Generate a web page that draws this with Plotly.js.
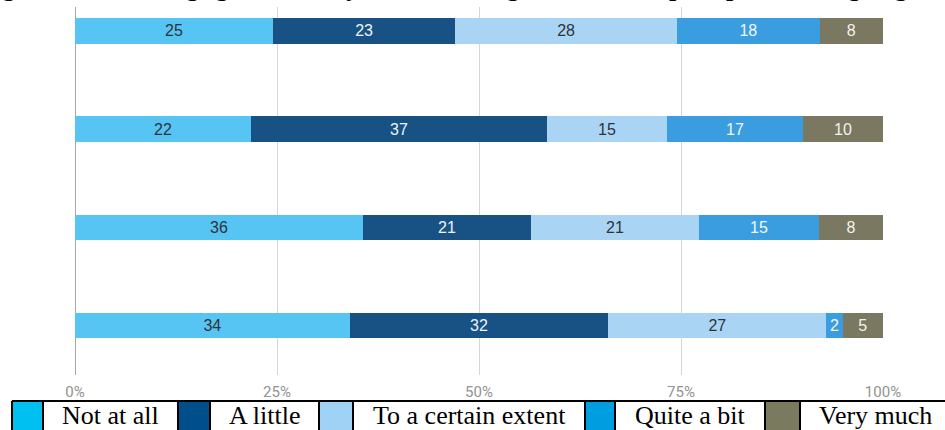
<!DOCTYPE html>
<html>
<head>
<meta charset="utf-8">
<script src="https://cdn.plot.ly/plotly-3.0.1.min.js"></script>
<style>
  html, body { margin: 0; padding: 0; background: #ffffff; }
  #chart { width: 945px; height: 430px; }
</style>
</head>
<body>
<div id="chart"></div>
<script>
// Rows of the stacked bar, top to bottom
const concepts = ["Hope", "Fear", "Anger", "Guilt"];

// Answer scale (stack order, left to right)
const levels = ["Not at all", "A little", "To a certain extent", "Quite a bit", "Very much"];

// Shares per answer, one value per concept row
const notAtAll   = [25, 22, 36, 34];
const aLittle    = [23, 37, 21, 32];
const certain    = [28, 15, 21, 27];
const quiteABit  = [18, 17, 15, 2];
const veryMuch   = [8, 10, 8, 5];

const tickVals   = [0, 25, 50, 75, 100];
const tickLabels = ["0%", "25%", "50%", "75%", "100%"];

const chartTitle = "Degree of the feelings generated by climate change in the concept hope, fear, anger, guilt";

// Styling
const barColors    = ["#56c5f3", "#185285", "#a9d4f4", "#3a9de0", "#7b7862"];
const swatchColors = ["#00c0f2", "#004f8a", "#a0d2f6", "#009de0", "#797a5e"];
const labelColors  = ["#2e3338", "#eef2f7", "#2e3338", "#f4f7fb", "#f2f2ee"];

const series = [notAtAll, aLittle, certain, quiteABit, veryMuch];

const traces = series.map((vals, i) => ({
  type: "bar",
  orientation: "h",
  name: levels[i],
  y: concepts,
  x: vals,
  text: vals.map(String),
  texttemplate: "%{text}",
  textposition: "inside",
  insidetextanchor: "middle",
  textangle: 0,
  constraintext: "none",
  textfont: { family: "Liberation Sans, Arial, sans-serif", size: 16, color: labelColors[i] },
  marker: { color: barColors[i], line: { width: 0 } },
  width: 0.26,
  hoverinfo: "skip"
}));

// Plot frame in pixels
const W = 945, H = 430;
const M = { l: 75, r: 62, t: 7, b: 55 };
const pw = W - M.l - M.r, ph = H - M.t - M.b;
const px = v => (v - M.l) / pw;          // page x -> paper x
const py = v => (H - M.b - v) / ph;      // page y -> paper y

// Boxed legend strip under the axis
const cellEdges = [12, 43, 178, 210, 319, 353, 585, 615, 765, 800, 950];
const legTop = 401, legBottom = 434;

const shapes = [];
const annotations = [];

levels.forEach((lab, i) => {
  const s0 = cellEdges[2 * i], s1 = cellEdges[2 * i + 1], t1 = cellEdges[2 * i + 2];
  shapes.push({
    type: "rect", xref: "paper", yref: "paper",
    x0: px(s0), x1: px(s1), y0: py(legBottom), y1: py(legTop),
    fillcolor: swatchColors[i], line: { width: 0 }, layer: "above"
  });
  annotations.push({
    xref: "paper", yref: "paper",
    x: px((s1 + t1) / 2), y: py(415),
    xanchor: "center", yanchor: "middle",
    text: lab, showarrow: false,
    font: { family: "Liberation Serif, Times New Roman, serif", size: 26, color: "#000000" }
  });
});

// Cell borders
shapes.push({
  type: "line", xref: "paper", yref: "paper",
  x0: px(cellEdges[0]), x1: px(W + 5), y0: py(legTop), y1: py(legTop),
  line: { color: "#000000", width: 2 }, layer: "above"
});
cellEdges.forEach(e => {
  shapes.push({
    type: "line", xref: "paper", yref: "paper",
    x0: px(e), x1: px(e), y0: py(legTop), y1: py(legBottom),
    line: { color: "#000000", width: 2 }, layer: "above"
  });
});

// Title sitting mostly above the page edge
annotations.push({
  xref: "paper", yref: "paper",
  x: px(-30), y: py(4),
  xanchor: "left", yanchor: "bottom",
  text: "<b>" + chartTitle + "</b>", showarrow: false,
  font: { family: "Liberation Serif, Times New Roman, serif", size: 26, color: "#000000" }
});

const layout = {
  width: W, height: H,
  margin: M,
  paper_bgcolor: "#ffffff",
  plot_bgcolor: "#ffffff",
  barmode: "stack",
  barnorm: "percent",
  showlegend: false,
  xaxis: {
    range: [0, 100],
    tickvals: tickVals,
    ticktext: tickLabels,
    showgrid: true,
    gridcolor: "#d6d6d6",
    gridwidth: 1,
    zeroline: true,
    zerolinecolor: "#a8a8a8",
    zerolinewidth: 1,
    showline: false,
    ticks: "",
    ticklabelstandoff: 6,
    tickfont: { family: "Roboto, Arial, sans-serif", size: 15, color: "#929292" },
    fixedrange: true
  },
  yaxis: {
    type: "category",
    categoryorder: "array",
    categoryarray: concepts,
    range: [3.504, -0.244],
    showticklabels: false,
    showgrid: false,
    zeroline: false,
    showline: false,
    ticks: "",
    fixedrange: true
  },
  shapes: shapes,
  annotations: annotations
};

Plotly.newPlot("chart", traces, layout, { displayModeBar: false, staticPlot: true });
</script>
</body>
</html>
